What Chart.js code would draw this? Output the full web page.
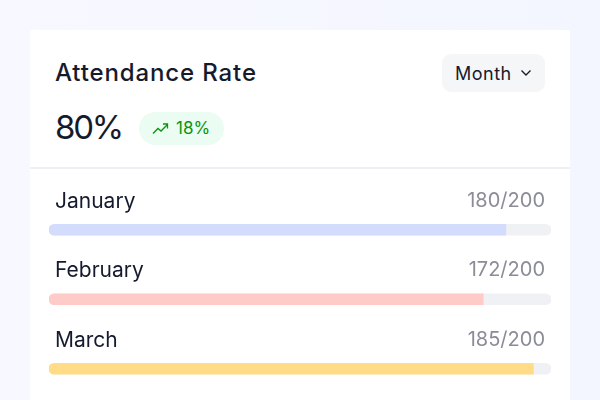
<!DOCTYPE html>
<html><head><meta charset="utf-8">
<script src="https://cdn.jsdelivr.net/npm/chart.js@4"></script>
<style>
html,body{margin:0;padding:0;width:600px;height:400px;overflow:hidden;background:linear-gradient(90deg,#f8f8ff,#f3f6ff);font-family:Inter,"Noto Sans",sans-serif;color:#151b2d}
#card{position:absolute;left:30px;top:30px;width:540px;height:370px;background:#fff}
#rule{position:absolute;left:30px;top:167px;width:540px;height:2px;background:#eeeef3}
.t{position:absolute;white-space:nowrap;line-height:1}
#title{left:55px;top:61px;font-size:24px;font-weight:500;letter-spacing:.87px}
#big{left:55px;top:111px;font-size:33px;font-weight:400;letter-spacing:-2.2px}
#pill{position:absolute;left:139px;top:112px;width:85px;height:33px;border-radius:17px;background:#ebfcf2}
#pct{left:176px;top:120px;font-size:17px;color:#0a9410;font-weight:400}
#btn{position:absolute;left:442px;top:54px;width:103px;height:38px;border-radius:9px;background:#f5f6f8}
#month{left:455px;top:65px;font-size:18px;font-weight:400;letter-spacing:.5px}
svg{position:absolute}
#wrap{position:absolute;left:49px;top:194.5px;width:502px;height:208.5px}
.m{left:55px;font-size:21px}
.v{right:55px;font-size:20px;color:#8a8d98}
</style></head><body>
<div id="card"></div><div id="rule"></div>
<div class="t" id="title"></div>
<div class="t" id="big"></div>
<div id="pill"></div>
<svg style="left:152px;top:122px" width="17" height="13" viewBox="0 0 17 13" fill="none" stroke="#0a9410" stroke-width="1.3"><path d="M1 11.5 L6 6.5 L9 9 L15.5 2.5 M11 2 H15.5 V6.5"/></svg>
<div class="t" id="pct"></div>
<div id="btn"></div>
<div class="t" id="month"></div>
<svg style="left:520px;top:69px" width="12" height="8" viewBox="0 0 12 8" fill="none" stroke="#151b2d" stroke-width="1.4"><path d="M1.5 1.5 L6 6 L10.5 1.5"/></svg>
<div id="wrap"><canvas id="c"></canvas></div>
<script>
const titleText = "Attendance Rate";
const headline = "80%";
const change = "18%";
const period = "Month";
const categories = ["January","February","March"];
const valueLabels = ["180/200","172/200","185/200"];
const filled = [182,173,193];
const total = [200,200,200];
const colors = ["#d4dcfd","#ffcbc8","#ffdc85"];
const rowTextTops = [190,259,329];

document.getElementById("title").textContent = titleText;
document.getElementById("big").textContent = headline;
document.getElementById("pct").textContent = change;
document.getElementById("month").textContent = period;
categories.forEach((c,i)=>{
  for (const [cls,txt] of [["m",c],["v",valueLabels[i]]]) {
    const d=document.createElement("div");
    d.className="t "+cls; d.style.top=rowTextTops[i]+"px"; d.textContent=txt;
    document.body.appendChild(d);
  }
});
new Chart(document.getElementById("c"),{
  type:"bar",
  data:{labels:categories,datasets:[
    {data:filled,backgroundColor:colors,barThickness:11,grouped:false,borderSkipped:false,
     borderRadius:{topLeft:6,bottomLeft:6,topRight:0,bottomRight:0}},
    {data:total,backgroundColor:"#f0f1f4",barThickness:11,grouped:false,borderSkipped:false,borderRadius:6}
  ]},
  options:{indexAxis:"y",responsive:true,maintainAspectRatio:false,animation:false,
    layout:{padding:0},
    plugins:{legend:{display:false},tooltip:{enabled:false}},
    scales:{x:{display:false,min:0,max:200},y:{display:false}}}
});
</script>
</body></html>
